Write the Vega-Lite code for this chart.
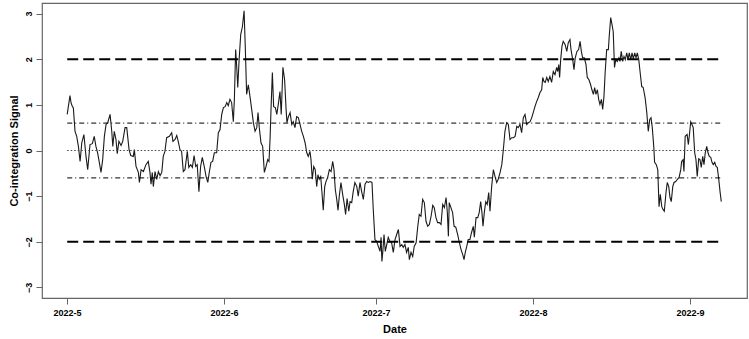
{
  "$schema": "https://vega.github.io/schema/vega-lite/v6.json",
  "width": 705,
  "height": 295,
  "autosize": {"type": "none"},
  "padding": {"left": 42, "top": 3, "right": 2, "bottom": 41},
  "background": "white",
  "config": {
    "font": "Liberation Sans",
    "view": {"stroke": "#666", "strokeWidth": 1.2},
    "axis": {
      "grid": false,
      "domain": false,
      "tickColor": "#666",
      "tickSize": 6,
      "tickWidth": 1,
      "labelFont": "Liberation Sans",
      "labelFontSize": 9,
      "labelFontWeight": "bold",
      "labelColor": "black",
      "titleFont": "Liberation Sans",
      "titleFontSize": 11,
      "titleFontWeight": "bold",
      "titleColor": "black",
      "labelFlush": false,
      "labelOverlap": false
    }
  },
  "datasets": {
    "levels": [
      {"level": 2, "kind": "band", "start": "2022-05-01T01:00Z", "end": "2022-09-07T04:00Z"},
      {"level": -2, "kind": "band", "start": "2022-05-01T01:00Z", "end": "2022-09-07T04:00Z"},
      {"level": 0.6, "kind": "inner", "start": "2022-05-01T01:00Z", "end": "2022-09-07T04:00Z"},
      {"level": -0.6, "kind": "inner", "start": "2022-05-01T01:00Z", "end": "2022-09-07T04:00Z"},
      {"level": 0, "kind": "zero", "start": "2022-05-01T01:00Z", "end": "2022-09-07T04:00Z"}
    ],
    "signal": [
      {"date":"2022-05-01T01:00Z","signal":0.79},{"date":"2022-05-01T14:00Z","signal":1.2},{"date":"2022-05-01T19:00Z","signal":1.05},{"date":"2022-05-02T00:00Z","signal":0.98},{"date":"2022-05-02T06:00Z","signal":0.93},{"date":"2022-05-02T14:00Z","signal":0.42},{"date":"2022-05-02T22:00Z","signal":0.31},{"date":"2022-05-03T06:00Z","signal":0.09},{"date":"2022-05-03T14:00Z","signal":-0.24},{"date":"2022-05-03T22:00Z","signal":0.17},{"date":"2022-05-04T08:00Z","signal":0.35},{"date":"2022-05-04T18:00Z","signal":-0.13},{"date":"2022-05-05T02:00Z","signal":-0.42},{"date":"2022-05-05T13:00Z","signal":0.13},{"date":"2022-05-06T00:00Z","signal":0.15},{"date":"2022-05-06T09:00Z","signal":0.31},{"date":"2022-05-06T17:00Z","signal":0.09},{"date":"2022-05-07T01:00Z","signal":-0.05},{"date":"2022-05-07T09:00Z","signal":-0.26},{"date":"2022-05-07T17:00Z","signal":-0.48},{"date":"2022-05-08T01:00Z","signal":-0.2},{"date":"2022-05-08T09:00Z","signal":0.31},{"date":"2022-05-08T17:00Z","signal":0.57},{"date":"2022-05-09T01:00Z","signal":0.61},{"date":"2022-05-09T12:00Z","signal":0.79},{"date":"2022-05-09T20:00Z","signal":0.42},{"date":"2022-05-10T01:00Z","signal":0.09},{"date":"2022-05-10T08:00Z","signal":0.42},{"date":"2022-05-10T16:00Z","signal":0.24},{"date":"2022-05-10T22:00Z","signal":-0.07},{"date":"2022-05-11T06:00Z","signal":0.2},{"date":"2022-05-11T16:00Z","signal":0.11},{"date":"2022-05-12T00:00Z","signal":0.2},{"date":"2022-05-12T11:00Z","signal":0.5},{"date":"2022-05-12T19:00Z","signal":0.5},{"date":"2022-05-13T06:00Z","signal":0.02},{"date":"2022-05-13T14:00Z","signal":-0.11},{"date":"2022-05-14T02:00Z","signal":-0.13},{"date":"2022-05-14T07:00Z","signal":0.02},{"date":"2022-05-14T15:00Z","signal":-0.35},{"date":"2022-05-15T02:00Z","signal":-0.48},{"date":"2022-05-15T07:00Z","signal":-0.7},{"date":"2022-05-15T15:00Z","signal":-0.42},{"date":"2022-05-16T02:00Z","signal":-0.46},{"date":"2022-05-16T14:00Z","signal":-0.31},{"date":"2022-05-17T01:00Z","signal":-0.24},{"date":"2022-05-17T09:00Z","signal":-0.48},{"date":"2022-05-17T14:00Z","signal":-0.74},{"date":"2022-05-17T20:00Z","signal":-0.48},{"date":"2022-05-18T01:00Z","signal":-0.79},{"date":"2022-05-18T09:00Z","signal":-0.46},{"date":"2022-05-18T17:00Z","signal":-0.63},{"date":"2022-05-19T01:00Z","signal":-0.46},{"date":"2022-05-19T09:00Z","signal":-0.55},{"date":"2022-05-19T17:00Z","signal":-0.48},{"date":"2022-05-20T00:00Z","signal":-0.13},{"date":"2022-05-20T08:00Z","signal":-0.02},{"date":"2022-05-20T16:00Z","signal":0.28},{"date":"2022-05-21T05:00Z","signal":0.31},{"date":"2022-05-21T16:00Z","signal":0.39},{"date":"2022-05-21T22:00Z","signal":0.2},{"date":"2022-05-22T08:00Z","signal":0.24},{"date":"2022-05-22T16:00Z","signal":0.33},{"date":"2022-05-22T23:00Z","signal":0.2},{"date":"2022-05-23T07:00Z","signal":0.02},{"date":"2022-05-23T15:00Z","signal":-0.02},{"date":"2022-05-23T23:00Z","signal":-0.46},{"date":"2022-05-24T07:00Z","signal":-0.42},{"date":"2022-05-24T18:00Z","signal":-0.02},{"date":"2022-05-25T01:00Z","signal":-0.37},{"date":"2022-05-25T10:00Z","signal":-0.31},{"date":"2022-05-25T18:00Z","signal":-0.37},{"date":"2022-05-26T02:00Z","signal":-0.11},{"date":"2022-05-26T10:00Z","signal":-0.35},{"date":"2022-05-26T17:00Z","signal":-0.31},{"date":"2022-05-27T01:00Z","signal":-0.9},{"date":"2022-05-27T09:00Z","signal":-0.35},{"date":"2022-05-27T17:00Z","signal":-0.15},{"date":"2022-05-28T03:00Z","signal":-0.37},{"date":"2022-05-28T11:00Z","signal":-0.57},{"date":"2022-05-28T19:00Z","signal":-0.7},{"date":"2022-05-29T02:00Z","signal":-0.48},{"date":"2022-05-29T10:00Z","signal":-0.26},{"date":"2022-05-29T18:00Z","signal":-0.24},{"date":"2022-05-30T02:00Z","signal":-0.05},{"date":"2022-05-30T13:00Z","signal":-0.05},{"date":"2022-05-30T21:00Z","signal":0.39},{"date":"2022-05-31T05:00Z","signal":0.46},{"date":"2022-05-31T13:00Z","signal":0.79},{"date":"2022-05-31T21:00Z","signal":0.94},
      {"date":"2022-06-01T05:00Z","signal":0.96},{"date":"2022-06-01T13:00Z","signal":1.05},{"date":"2022-06-01T20:00Z","signal":0.98},{"date":"2022-06-02T04:00Z","signal":1.12},{"date":"2022-06-02T12:00Z","signal":1.05},{"date":"2022-06-02T20:00Z","signal":0.63},{"date":"2022-06-03T01:00Z","signal":1.12},{"date":"2022-06-03T07:00Z","signal":2.21},{"date":"2022-06-03T12:00Z","signal":1.84},{"date":"2022-06-03T17:00Z","signal":1.38},{"date":"2022-06-03T23:00Z","signal":1.95},{"date":"2022-06-04T07:00Z","signal":2.54},{"date":"2022-06-04T15:00Z","signal":2.71},{"date":"2022-06-04T23:00Z","signal":3.06},{"date":"2022-06-05T05:00Z","signal":2.21},{"date":"2022-06-05T11:00Z","signal":1.23},{"date":"2022-06-05T19:00Z","signal":1.44},{"date":"2022-06-06T03:00Z","signal":1.18},{"date":"2022-06-06T11:00Z","signal":0.9},{"date":"2022-06-06T19:00Z","signal":0.61},{"date":"2022-06-07T03:00Z","signal":0.42},{"date":"2022-06-07T11:00Z","signal":0.5},{"date":"2022-06-07T17:00Z","signal":0.83},{"date":"2022-06-07T23:00Z","signal":0.5},{"date":"2022-06-08T07:00Z","signal":0.17},{"date":"2022-06-08T15:00Z","signal":0.09},{"date":"2022-06-08T23:00Z","signal":-0.48},{"date":"2022-06-09T07:00Z","signal":-0.35},{"date":"2022-06-09T15:00Z","signal":-0.2},{"date":"2022-06-09T21:00Z","signal":-0.24},{"date":"2022-06-10T02:00Z","signal":0.24},{"date":"2022-06-10T07:00Z","signal":0.96},{"date":"2022-06-10T13:00Z","signal":1.71},{"date":"2022-06-10T19:00Z","signal":0.96},{"date":"2022-06-11T03:00Z","signal":0.94},{"date":"2022-06-11T10:00Z","signal":0.79},{"date":"2022-06-11T17:00Z","signal":1.01},{"date":"2022-06-12T01:00Z","signal":1.29},{"date":"2022-06-12T07:00Z","signal":0.79},{"date":"2022-06-12T15:00Z","signal":1.82},{"date":"2022-06-12T23:00Z","signal":1.55},{"date":"2022-06-13T06:00Z","signal":0.9},{"date":"2022-06-13T10:00Z","signal":0.61},{"date":"2022-06-13T17:00Z","signal":0.74},{"date":"2022-06-14T01:00Z","signal":0.83},{"date":"2022-06-14T09:00Z","signal":0.57},{"date":"2022-06-14T16:00Z","signal":0.63},{"date":"2022-06-15T00:00Z","signal":0.5},{"date":"2022-06-15T08:00Z","signal":0.74},{"date":"2022-06-15T16:00Z","signal":0.72},{"date":"2022-06-16T00:00Z","signal":0.57},{"date":"2022-06-16T08:00Z","signal":0.42},{"date":"2022-06-16T16:00Z","signal":0.31},{"date":"2022-06-17T00:00Z","signal":0.17},{"date":"2022-06-17T08:00Z","signal":-0.05},{"date":"2022-06-17T15:00Z","signal":-0.13},{"date":"2022-06-17T23:00Z","signal":-0.02},{"date":"2022-06-18T04:00Z","signal":-0.2},{"date":"2022-06-18T10:00Z","signal":-0.63},{"date":"2022-06-18T17:00Z","signal":-0.35},{"date":"2022-06-19T00:00Z","signal":-0.42},{"date":"2022-06-19T07:00Z","signal":-0.79},{"date":"2022-06-19T13:00Z","signal":-0.53},{"date":"2022-06-19T19:00Z","signal":-0.63},{"date":"2022-06-20T02:00Z","signal":-0.57},{"date":"2022-06-20T08:00Z","signal":-0.92},{"date":"2022-06-20T14:00Z","signal":-1.31},{"date":"2022-06-20T21:00Z","signal":-0.79},{"date":"2022-06-21T03:00Z","signal":-0.68},{"date":"2022-06-21T11:00Z","signal":-0.59},{"date":"2022-06-21T19:00Z","signal":-0.42},{"date":"2022-06-22T03:00Z","signal":-0.46},{"date":"2022-06-22T11:00Z","signal":-0.24},{"date":"2022-06-22T17:00Z","signal":-0.42},{"date":"2022-06-22T23:00Z","signal":-0.85},{"date":"2022-06-23T06:00Z","signal":-1.07},{"date":"2022-06-23T12:00Z","signal":-1.31},{"date":"2022-06-23T18:00Z","signal":-1.0},{"date":"2022-06-24T02:00Z","signal":-0.7},{"date":"2022-06-24T10:00Z","signal":-0.96},{"date":"2022-06-24T18:00Z","signal":-1.18},{"date":"2022-06-25T00:00Z","signal":-1.4},{"date":"2022-06-25T07:00Z","signal":-1.05},{"date":"2022-06-25T15:00Z","signal":-1.33},{"date":"2022-06-25T21:00Z","signal":-1.12},{"date":"2022-06-26T05:00Z","signal":-1.14},{"date":"2022-06-26T12:00Z","signal":-0.9},{"date":"2022-06-26T20:00Z","signal":-0.7},{"date":"2022-06-27T05:00Z","signal":-0.79},{"date":"2022-06-27T12:00Z","signal":-1.0},{"date":"2022-06-27T20:00Z","signal":-0.7},{"date":"2022-06-28T04:00Z","signal":-0.9},{"date":"2022-06-28T12:00Z","signal":-1.07},{"date":"2022-06-28T20:00Z","signal":-0.74},{"date":"2022-06-29T04:00Z","signal":-0.68},{"date":"2022-06-29T12:00Z","signal":-0.7},{"date":"2022-06-29T20:00Z","signal":-0.68},{"date":"2022-06-30T05:00Z","signal":-0.7},{"date":"2022-06-30T11:00Z","signal":-1.29},{"date":"2022-06-30T19:00Z","signal":-1.95},
      {"date":"2022-07-01T03:00Z","signal":-1.99},{"date":"2022-07-01T11:00Z","signal":-2.1},{"date":"2022-07-01T19:00Z","signal":-2.21},{"date":"2022-07-02T00:00Z","signal":-1.9},{"date":"2022-07-02T04:00Z","signal":-2.43},{"date":"2022-07-02T08:00Z","signal":-2.23},{"date":"2022-07-02T14:00Z","signal":-1.84},{"date":"2022-07-02T20:00Z","signal":-2.21},{"date":"2022-07-03T03:00Z","signal":-2.06},{"date":"2022-07-03T10:00Z","signal":-1.9},{"date":"2022-07-03T18:00Z","signal":-1.99},{"date":"2022-07-04T02:00Z","signal":-2.02},{"date":"2022-07-04T10:00Z","signal":-2.23},{"date":"2022-07-04T18:00Z","signal":-1.95},{"date":"2022-07-05T02:00Z","signal":-1.84},{"date":"2022-07-05T10:00Z","signal":-1.73},{"date":"2022-07-05T18:00Z","signal":-2.1},{"date":"2022-07-06T02:00Z","signal":-2.06},{"date":"2022-07-06T09:00Z","signal":-2.12},{"date":"2022-07-06T17:00Z","signal":-2.06},{"date":"2022-07-07T01:00Z","signal":-2.23},{"date":"2022-07-07T09:00Z","signal":-2.12},{"date":"2022-07-07T14:00Z","signal":-2.39},{"date":"2022-07-07T22:00Z","signal":-2.23},{"date":"2022-07-08T06:00Z","signal":-2.32},{"date":"2022-07-08T13:00Z","signal":-2.1},{"date":"2022-07-08T22:00Z","signal":-2.02},{"date":"2022-07-09T06:00Z","signal":-1.66},{"date":"2022-07-09T13:00Z","signal":-1.4},{"date":"2022-07-09T21:00Z","signal":-1.44},{"date":"2022-07-10T05:00Z","signal":-1.07},{"date":"2022-07-10T13:00Z","signal":-1.14},{"date":"2022-07-10T21:00Z","signal":-1.55},{"date":"2022-07-11T05:00Z","signal":-1.66},{"date":"2022-07-11T13:00Z","signal":-1.62},{"date":"2022-07-11T21:00Z","signal":-1.44},{"date":"2022-07-12T05:00Z","signal":-1.2},{"date":"2022-07-12T12:00Z","signal":-1.25},{"date":"2022-07-12T20:00Z","signal":-1.47},{"date":"2022-07-13T04:00Z","signal":-1.58},{"date":"2022-07-13T12:00Z","signal":-1.58},{"date":"2022-07-13T20:00Z","signal":-1.62},{"date":"2022-07-14T04:00Z","signal":-1.18},{"date":"2022-07-14T12:00Z","signal":-1.25},{"date":"2022-07-14T20:00Z","signal":-1.03},{"date":"2022-07-15T02:00Z","signal":-1.36},{"date":"2022-07-15T07:00Z","signal":-1.88},{"date":"2022-07-15T11:00Z","signal":-1.14},{"date":"2022-07-15T19:00Z","signal":-1.25},{"date":"2022-07-16T03:00Z","signal":-1.36},{"date":"2022-07-16T10:00Z","signal":-1.66},{"date":"2022-07-16T18:00Z","signal":-1.68},{"date":"2022-07-17T03:00Z","signal":-1.84},{"date":"2022-07-17T11:00Z","signal":-2.02},{"date":"2022-07-17T19:00Z","signal":-2.17},{"date":"2022-07-18T03:00Z","signal":-2.28},{"date":"2022-07-18T09:00Z","signal":-2.39},{"date":"2022-07-18T15:00Z","signal":-2.23},{"date":"2022-07-18T22:00Z","signal":-2.1},{"date":"2022-07-19T05:00Z","signal":-1.95},{"date":"2022-07-19T13:00Z","signal":-1.95},{"date":"2022-07-19T21:00Z","signal":-1.79},{"date":"2022-07-20T05:00Z","signal":-1.66},{"date":"2022-07-20T10:00Z","signal":-1.9},{"date":"2022-07-20T18:00Z","signal":-1.47},{"date":"2022-07-21T02:00Z","signal":-1.47},{"date":"2022-07-21T09:00Z","signal":-1.36},{"date":"2022-07-21T16:00Z","signal":-1.12},{"date":"2022-07-21T22:00Z","signal":-1.36},{"date":"2022-07-22T03:00Z","signal":-1.66},{"date":"2022-07-22T09:00Z","signal":-1.36},{"date":"2022-07-22T16:00Z","signal":-1.12},{"date":"2022-07-22T23:00Z","signal":-1.18},{"date":"2022-07-23T06:00Z","signal":-0.92},{"date":"2022-07-23T12:00Z","signal":-1.33},{"date":"2022-07-23T20:00Z","signal":-0.79},{"date":"2022-07-24T04:00Z","signal":-0.42},{"date":"2022-07-24T12:00Z","signal":-0.57},{"date":"2022-07-24T20:00Z","signal":-0.7},{"date":"2022-07-25T03:00Z","signal":-0.63},{"date":"2022-07-25T12:00Z","signal":-0.48},{"date":"2022-07-25T20:00Z","signal":-0.31},{"date":"2022-07-26T03:00Z","signal":0.0},{"date":"2022-07-26T11:00Z","signal":0.42},{"date":"2022-07-26T19:00Z","signal":0.61},{"date":"2022-07-27T03:00Z","signal":0.57},{"date":"2022-07-27T11:00Z","signal":0.24},{"date":"2022-07-27T19:00Z","signal":0.28},{"date":"2022-07-28T03:00Z","signal":0.28},{"date":"2022-07-28T11:00Z","signal":0.31},{"date":"2022-07-28T19:00Z","signal":0.53},{"date":"2022-07-29T02:00Z","signal":0.5},{"date":"2022-07-29T10:00Z","signal":0.57},{"date":"2022-07-29T18:00Z","signal":0.39},{"date":"2022-07-30T02:00Z","signal":0.72},{"date":"2022-07-30T10:00Z","signal":0.79},{"date":"2022-07-30T18:00Z","signal":0.57},{"date":"2022-07-31T02:00Z","signal":0.61},{"date":"2022-07-31T10:00Z","signal":0.63},{"date":"2022-07-31T18:00Z","signal":0.72},
      {"date":"2022-08-01T01:00Z","signal":0.83},{"date":"2022-08-01T09:00Z","signal":0.96},{"date":"2022-08-01T17:00Z","signal":1.07},{"date":"2022-08-02T01:00Z","signal":1.16},{"date":"2022-08-02T09:00Z","signal":1.27},{"date":"2022-08-02T17:00Z","signal":1.33},{"date":"2022-08-02T22:00Z","signal":1.6},{"date":"2022-08-03T04:00Z","signal":1.51},{"date":"2022-08-03T10:00Z","signal":1.49},{"date":"2022-08-03T17:00Z","signal":1.6},{"date":"2022-08-04T00:00Z","signal":1.51},{"date":"2022-08-04T08:00Z","signal":1.62},{"date":"2022-08-04T16:00Z","signal":1.49},{"date":"2022-08-05T00:00Z","signal":1.73},{"date":"2022-08-05T08:00Z","signal":1.66},{"date":"2022-08-05T16:00Z","signal":1.82},{"date":"2022-08-05T21:00Z","signal":1.73},{"date":"2022-08-06T02:00Z","signal":1.88},{"date":"2022-08-06T06:00Z","signal":1.6},{"date":"2022-08-06T11:00Z","signal":1.99},{"date":"2022-08-06T17:00Z","signal":2.28},{"date":"2022-08-06T23:00Z","signal":2.39},{"date":"2022-08-07T08:00Z","signal":2.32},{"date":"2022-08-07T16:00Z","signal":2.17},{"date":"2022-08-07T23:00Z","signal":2.36},{"date":"2022-08-08T07:00Z","signal":2.43},{"date":"2022-08-08T12:00Z","signal":2.21},{"date":"2022-08-08T20:00Z","signal":1.99},{"date":"2022-08-09T02:00Z","signal":1.77},{"date":"2022-08-09T08:00Z","signal":2.03},{"date":"2022-08-09T16:00Z","signal":2.17},{"date":"2022-08-10T00:00Z","signal":2.21},{"date":"2022-08-10T07:00Z","signal":2.39},{"date":"2022-08-10T13:00Z","signal":2.17},{"date":"2022-08-10T19:00Z","signal":2.03},{"date":"2022-08-11T03:00Z","signal":2.03},{"date":"2022-08-11T11:00Z","signal":1.88},{"date":"2022-08-11T17:00Z","signal":1.6},{"date":"2022-08-12T01:00Z","signal":1.55},{"date":"2022-08-12T09:00Z","signal":1.44},{"date":"2022-08-12T15:00Z","signal":1.33},{"date":"2022-08-12T22:00Z","signal":1.23},{"date":"2022-08-13T04:00Z","signal":1.38},{"date":"2022-08-13T10:00Z","signal":1.23},{"date":"2022-08-13T17:00Z","signal":1.33},{"date":"2022-08-13T23:00Z","signal":1.12},{"date":"2022-08-14T05:00Z","signal":1.01},{"date":"2022-08-14T12:00Z","signal":1.12},{"date":"2022-08-14T18:00Z","signal":0.9},{"date":"2022-08-15T00:00Z","signal":1.18},{"date":"2022-08-15T06:00Z","signal":1.73},{"date":"2022-08-15T13:00Z","signal":2.21},{"date":"2022-08-15T21:00Z","signal":2.21},{"date":"2022-08-16T01:00Z","signal":2.5},{"date":"2022-08-16T08:00Z","signal":2.91},{"date":"2022-08-16T14:00Z","signal":2.76},{"date":"2022-08-16T20:00Z","signal":2.6},{"date":"2022-08-17T02:00Z","signal":1.82},{"date":"2022-08-17T08:00Z","signal":1.99},{"date":"2022-08-17T15:00Z","signal":1.95},{"date":"2022-08-17T23:00Z","signal":2.03},{"date":"2022-08-18T04:00Z","signal":1.95},{"date":"2022-08-18T10:00Z","signal":2.17},{"date":"2022-08-18T17:00Z","signal":1.95},{"date":"2022-08-18T23:00Z","signal":2.06},{"date":"2022-08-19T05:00Z","signal":1.99},{"date":"2022-08-19T12:00Z","signal":2.14},{"date":"2022-08-19T18:00Z","signal":1.99},{"date":"2022-08-20T00:00Z","signal":2.14},{"date":"2022-08-20T07:00Z","signal":1.99},{"date":"2022-08-20T13:00Z","signal":2.14},{"date":"2022-08-20T19:00Z","signal":2.01},{"date":"2022-08-21T02:00Z","signal":2.14},{"date":"2022-08-21T08:00Z","signal":2.03},{"date":"2022-08-21T14:00Z","signal":2.14},{"date":"2022-08-21T21:00Z","signal":1.99},{"date":"2022-08-22T03:00Z","signal":1.73},{"date":"2022-08-22T11:00Z","signal":1.4},{"date":"2022-08-22T18:00Z","signal":1.38},{"date":"2022-08-23T03:00Z","signal":1.16},{"date":"2022-08-23T11:00Z","signal":0.83},{"date":"2022-08-23T18:00Z","signal":0.42},{"date":"2022-08-24T01:00Z","signal":0.68},{"date":"2022-08-24T07:00Z","signal":0.72},{"date":"2022-08-24T13:00Z","signal":0.5},{"date":"2022-08-24T20:00Z","signal":0.09},{"date":"2022-08-25T00:00Z","signal":-0.26},{"date":"2022-08-25T08:00Z","signal":-0.31},{"date":"2022-08-25T15:00Z","signal":-0.42},{"date":"2022-08-25T21:00Z","signal":-1.23},{"date":"2022-08-26T03:00Z","signal":-0.96},{"date":"2022-08-26T10:00Z","signal":-1.23},{"date":"2022-08-26T16:00Z","signal":-1.29},{"date":"2022-08-26T22:00Z","signal":-1.33},{"date":"2022-08-27T06:00Z","signal":-0.92},{"date":"2022-08-27T12:00Z","signal":-0.7},{"date":"2022-08-27T19:00Z","signal":-0.79},{"date":"2022-08-28T01:00Z","signal":-1.03},{"date":"2022-08-28T07:00Z","signal":-1.12},{"date":"2022-08-28T14:00Z","signal":-0.79},{"date":"2022-08-28T20:00Z","signal":-0.7},{"date":"2022-08-29T04:00Z","signal":-0.68},{"date":"2022-08-29T12:00Z","signal":-0.63},{"date":"2022-08-29T20:00Z","signal":-0.59},{"date":"2022-08-30T04:00Z","signal":-0.42},{"date":"2022-08-30T08:00Z","signal":-0.24},{"date":"2022-08-30T15:00Z","signal":-0.2},{"date":"2022-08-30T19:00Z","signal":-0.46},{"date":"2022-08-31T01:00Z","signal":0.31},{"date":"2022-08-31T10:00Z","signal":0.35},{"date":"2022-08-31T16:00Z","signal":0.13},{"date":"2022-08-31T22:00Z","signal":0.39},
      {"date":"2022-09-01T03:00Z","signal":0.63},{"date":"2022-09-01T09:00Z","signal":0.57},{"date":"2022-09-01T15:00Z","signal":0.5},{"date":"2022-09-01T22:00Z","signal":-0.05},{"date":"2022-09-02T04:00Z","signal":-0.2},{"date":"2022-09-02T10:00Z","signal":-0.57},{"date":"2022-09-02T17:00Z","signal":-0.18},{"date":"2022-09-02T23:00Z","signal":-0.2},{"date":"2022-09-03T05:00Z","signal":-0.37},{"date":"2022-09-03T12:00Z","signal":-0.13},{"date":"2022-09-03T18:00Z","signal":-0.31},{"date":"2022-09-04T00:00Z","signal":-0.05},{"date":"2022-09-04T07:00Z","signal":0.09},{"date":"2022-09-04T13:00Z","signal":-0.05},{"date":"2022-09-04T19:00Z","signal":-0.13},{"date":"2022-09-05T02:00Z","signal":-0.15},{"date":"2022-09-05T08:00Z","signal":-0.26},{"date":"2022-09-05T14:00Z","signal":-0.31},{"date":"2022-09-05T21:00Z","signal":-0.26},{"date":"2022-09-06T03:00Z","signal":-0.35},{"date":"2022-09-06T09:00Z","signal":-0.37},{"date":"2022-09-06T16:00Z","signal":-0.63},{"date":"2022-09-06T22:00Z","signal":-0.9},{"date":"2022-09-07T04:00Z","signal":-1.12}
    ]
  },
  "layer": [
    {
      "data": {"name": "signal"},
      "mark": {"type": "line", "color": "#1a1a1a", "strokeWidth": 1.1, "interpolate": "linear"},
      "encoding": {
        "x": {
          "field": "date", "type": "temporal", "title": "Date",
          "scale": {"type": "utc", "domain": [{"year": 2022, "month": 4, "date": 26, "hours": 1, "minutes": 30, "utc": true}, {"year": 2022, "month": 9, "date": 12, "hours": 5, "minutes": 48, "utc": true}]},
          "axis": {
            "values": [{"year": 2022, "month": 5, "date": 1, "utc": true}, {"year": 2022, "month": 6, "date": 1, "utc": true}, {"year": 2022, "month": 7, "date": 1, "utc": true}, {"year": 2022, "month": 8, "date": 1, "utc": true}, {"year": 2022, "month": 9, "date": 1, "utc": true}],
            "labelExpr": "utcFormat(datum.value, '%Y-%-m')",
            "labelPadding": 4, "titlePadding": 6
          }
        },
        "y": {
          "field": "signal", "type": "quantitative", "title": "Co-integration Signal",
          "scale": {"domain": [-3.23, 3.23], "nice": false, "zero": false},
          "axis": {
            "values": [-3, -2, -1, 0, 1, 2, 3], "format": "d",
            "labelAngle": -90, "labelAlign": "center", "labelBaseline": "bottom",
            "labelPadding": 3, "titlePadding": 5
          }
        }
      }
    },
    {
      "data": {"name": "levels"},
      "transform": [{"filter": "datum.kind == 'band'"}],
      "mark": {"type": "rule", "color": "black", "strokeWidth": 2, "strokeDash": [11, 5]},
      "encoding": {
        "x": {"field": "start", "type": "temporal", "title": "Date", "scale": {"type": "utc", "domain": [{"year": 2022, "month": 4, "date": 26, "hours": 1, "minutes": 30, "utc": true}, {"year": 2022, "month": 9, "date": 12, "hours": 5, "minutes": 48, "utc": true}]},
          "axis": {"values": [{"year": 2022, "month": 5, "date": 1, "utc": true}, {"year": 2022, "month": 6, "date": 1, "utc": true}, {"year": 2022, "month": 7, "date": 1, "utc": true}, {"year": 2022, "month": 8, "date": 1, "utc": true}, {"year": 2022, "month": 9, "date": 1, "utc": true}], "labelExpr": "utcFormat(datum.value, '%Y-%-m')", "labelPadding": 4, "titlePadding": 6}},
        "x2": {"field": "end"},
        "y": {"field": "level", "type": "quantitative", "title": "Co-integration Signal", "scale": {"domain": [-3.23, 3.23], "nice": false, "zero": false},
          "axis": {"values": [-3, -2, -1, 0, 1, 2, 3], "format": "d", "labelAngle": -90, "labelAlign": "center", "labelBaseline": "bottom", "labelPadding": 3, "titlePadding": 5}}
      }
    },
    {
      "data": {"name": "levels"},
      "transform": [{"filter": "datum.kind == 'inner'"}],
      "mark": {"type": "rule", "color": "black", "strokeWidth": 1, "strokeDash": [5, 3, 1, 3]},
      "encoding": {
        "x": {"field": "start", "type": "temporal", "title": "Date", "scale": {"type": "utc", "domain": [{"year": 2022, "month": 4, "date": 26, "hours": 1, "minutes": 30, "utc": true}, {"year": 2022, "month": 9, "date": 12, "hours": 5, "minutes": 48, "utc": true}]},
          "axis": {"values": [{"year": 2022, "month": 5, "date": 1, "utc": true}, {"year": 2022, "month": 6, "date": 1, "utc": true}, {"year": 2022, "month": 7, "date": 1, "utc": true}, {"year": 2022, "month": 8, "date": 1, "utc": true}, {"year": 2022, "month": 9, "date": 1, "utc": true}], "labelExpr": "utcFormat(datum.value, '%Y-%-m')", "labelPadding": 4, "titlePadding": 6}},
        "x2": {"field": "end"},
        "y": {"field": "level", "type": "quantitative", "title": "Co-integration Signal", "scale": {"domain": [-3.23, 3.23], "nice": false, "zero": false},
          "axis": {"values": [-3, -2, -1, 0, 1, 2, 3], "format": "d", "labelAngle": -90, "labelAlign": "center", "labelBaseline": "bottom", "labelPadding": 3, "titlePadding": 5}}
      }
    },
    {
      "data": {"name": "levels"},
      "transform": [{"filter": "datum.kind == 'zero'"}],
      "mark": {"type": "rule", "color": "#444", "strokeWidth": 1, "strokeDash": [1.5, 2]},
      "encoding": {
        "x": {"field": "start", "type": "temporal", "title": "Date", "scale": {"type": "utc", "domain": [{"year": 2022, "month": 4, "date": 26, "hours": 1, "minutes": 30, "utc": true}, {"year": 2022, "month": 9, "date": 12, "hours": 5, "minutes": 48, "utc": true}]},
          "axis": {"values": [{"year": 2022, "month": 5, "date": 1, "utc": true}, {"year": 2022, "month": 6, "date": 1, "utc": true}, {"year": 2022, "month": 7, "date": 1, "utc": true}, {"year": 2022, "month": 8, "date": 1, "utc": true}, {"year": 2022, "month": 9, "date": 1, "utc": true}], "labelExpr": "utcFormat(datum.value, '%Y-%-m')", "labelPadding": 4, "titlePadding": 6}},
        "x2": {"field": "end"},
        "y": {"field": "level", "type": "quantitative", "title": "Co-integration Signal", "scale": {"domain": [-3.23, 3.23], "nice": false, "zero": false},
          "axis": {"values": [-3, -2, -1, 0, 1, 2, 3], "format": "d", "labelAngle": -90, "labelAlign": "center", "labelBaseline": "bottom", "labelPadding": 3, "titlePadding": 5}}
      }
    }
  ]
}
